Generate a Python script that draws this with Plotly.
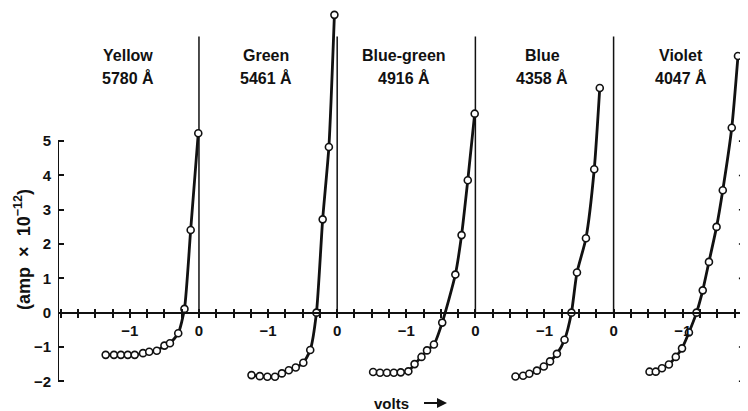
import plotly.graph_objects as go

# ---------------- data ----------------
colors = ["Yellow", "Green", "Blue-green", "Blue", "Violet"]
wavelengths = ["5780 Å", "5461 Å", "4916 Å", "4358 Å", "4047 Å"]

volts_yellow = [-1.35, -1.23, -1.13, -1.03, -0.93, -0.81, -0.72, -0.61, -0.50, -0.42, -0.30, -0.21, -0.12, -0.01]
amps_yellow = [-1.23, -1.23, -1.23, -1.23, -1.23, -1.18, -1.14, -1.11, -0.96, -0.89, -0.60, 0.11, 2.41, 5.23]

volts_green = [-1.24, -1.12, -1.01, -0.90, -0.80, -0.70, -0.60, -0.49, -0.39, -0.30, -0.21, -0.12, -0.04]
amps_green = [-1.82, -1.85, -1.87, -1.87, -1.77, -1.68, -1.60, -1.46, -1.09, 0.0, 2.72, 4.83, 8.68]

volts_bluegreen = [-1.48, -1.38, -1.28, -1.18, -1.08, -0.97, -0.88, -0.78, -0.70, -0.60, -0.48, -0.29, -0.20, -0.11, -0.01]
amps_bluegreen = [-1.73, -1.75, -1.75, -1.75, -1.74, -1.71, -1.50, -1.29, -1.10, -0.93, -0.29, 1.11, 2.26, 3.86, 5.80]

volts_blue = [-1.42, -1.31, -1.22, -1.11, -1.01, -0.92, -0.82, -0.71, -0.61, -0.53, -0.40, -0.28, -0.20]
amps_blue = [-1.86, -1.84, -1.78, -1.69, -1.57, -1.42, -1.20, -0.79, 0.0, 1.17, 2.17, 4.18, 6.55]

volts_violet = [-1.48, -1.39, -1.30, -1.20, -1.10, -1.01, -0.91, -0.80, -0.71, -0.62, -0.51, -0.42, -0.29, -0.20]
amps_violet = [-1.72, -1.72, -1.62, -1.51, -1.29, -1.04, -0.58, 0.0, 0.65, 1.48, 2.50, 3.57, 5.39, 7.48]

panel_volts = [volts_yellow, volts_green, volts_bluegreen, volts_blue, volts_violet]
panel_amps = [amps_yellow, amps_green, amps_bluegreen, amps_blue, amps_violet]

y_tick_values = [-2, -1, 0, 1, 2, 3, 4, 5]
y_tick_labels = ["−2", "−1", "0", "1", "2", "3", "4", "5"]
x_tick_values = [-1, 0, 1, 2, 3, 4, 5, 6, 7]
x_tick_labels = ["−1", "0", "−1", "0", "−1", "0", "−1", "0", "−1"]

# ---------------- layout constants ----------------
PANEL_SHIFT = 2.0          # each panel is drawn 2 V further along one shared axis
X_MIN, X_MAX = -2.04, 7.945
Y_MIN, Y_MAX = -2.40, 8.88
ZERO_LINE_TOP = 8.05
FONT = "Liberation Sans"
BLACK = "#111111"
NB = "\u00a0"

fig = go.Figure()

for k, (vs, am) in enumerate(zip(panel_volts, panel_amps)):
    off = k * PANEL_SHIFT
    if off < X_MAX:
        fig.add_trace(go.Scatter(
            x=[off, off], y=[0, ZERO_LINE_TOP], mode="lines",
            line=dict(color=BLACK, width=1.5), hoverinfo="skip", showlegend=False))
    fig.add_trace(go.Scatter(
        x=[v + off for v in vs], y=am, mode="lines+markers",
        line=dict(color=BLACK, width=2.8, shape="spline", smoothing=0.6),
        marker=dict(symbol="circle", size=7, color="white",
                    line=dict(color=BLACK, width=1.6)),
        name=colors[k], showlegend=False, cliponaxis=False))

# tick marks of the (cut-off) right-hand scale, at the right border of the plot
right_ticks = [v for v in y_tick_values if v != 0]
fig.add_trace(go.Scatter(
    x=[X_MAX] * len(right_ticks), y=right_ticks, mode="markers",
    marker=dict(symbol="line-ew", size=13, line=dict(color=BLACK, width=1.6)),
    hoverinfo="skip", showlegend=False, cliponaxis=False))

# invisible helper trace so the overlay x axis (upper half of the crossing ticks) is drawn
fig.add_trace(go.Scatter(x=[X_MIN], y=[0], xaxis="x2", mode="markers",
                         marker=dict(opacity=0), hoverinfo="skip", showlegend=False))

pos0 = (0 - Y_MIN) / (Y_MAX - Y_MIN)
tick_font = dict(family=FONT, size=15, weight="bold", color=BLACK)

fig.update_layout(
    width=748, height=411,
    margin=dict(l=50, r=8, t=0, b=24),
    paper_bgcolor="white", plot_bgcolor="white",
    font=dict(family=FONT, color=BLACK, size=14),
    xaxis=dict(range=[X_MIN, X_MAX], anchor="free", position=pos0,
               showgrid=False, zeroline=False, showline=True, linecolor=BLACK, linewidth=2,
               ticks="outside", ticklen=4, tickwidth=1.5, tickcolor=BLACK,
               tickvals=x_tick_values, ticktext=x_tick_labels, ticklabelstandoff=0,
               minor=dict(ticks="outside", dtick=0.25, tick0=0, ticklen=4, tickwidth=1.5,
                          tickcolor=BLACK, showgrid=False),
               tickfont=tick_font),
    xaxis2=dict(range=[X_MIN, X_MAX], overlaying="x", side="top", anchor="free", position=pos0,
                showgrid=False, zeroline=False, showline=False,
                ticks="outside", ticklen=4, tickwidth=1.5, tickcolor=BLACK,
                tick0=0, dtick=0.25, showticklabels=False),
    yaxis=dict(range=[Y_MIN, Y_MAX], showgrid=False, zeroline=False, showline=False,
               ticks="inside", ticklen=6, tickwidth=1.6, tickcolor=BLACK,
               tickvals=y_tick_values, ticktext=y_tick_labels, ticklabelstandoff=6,
               tickfont=tick_font),
)

# left y-axis line spanning only -2 .. 5
fig.add_shape(type="line", xref="x", yref="y", x0=X_MIN, x1=X_MIN,
              y0=min(y_tick_values), y1=max(y_tick_values),
              line=dict(color=BLACK, width=2))

# panel titles
for k in range(len(colors)):
    xc = k * PANEL_SHIFT - 1.03
    fig.add_annotation(x=xc, y=7.5, xref="x", yref="y", text=f"<b>{colors[k]}</b>",
                       showarrow=False, font=dict(family=FONT, size=16, color=BLACK))
    fig.add_annotation(x=xc, y=6.83, xref="x", yref="y", text=f"<b>{wavelengths[k]}</b>",
                       showarrow=False, font=dict(family=FONT, size=16, color=BLACK))

# last panel's "0", cut by the edge
fig.add_annotation(x=(4 * PANEL_SHIFT - X_MIN) / (X_MAX - X_MIN), y=pos0,
                   xref="paper", yref="paper", yshift=-19, text="<b>0</b>",
                   showarrow=False, font=dict(family=FONT, size=15, color=BLACK))

# axis titles
fig.add_annotation(x=-0.0507, y=0.375, xref="paper", yref="paper", xanchor="center", yanchor="middle",
                   text=f"<b>(amp{NB}{NB}×{NB}{NB}10<sup>−12</sup>)</b>", textangle=-90,
                   showarrow=False, font=dict(family=FONT, size=18, color=BLACK))
fig.add_annotation(x=0.5638, y=-0.0207, xref="paper", yref="paper", yanchor="middle",
                   text="<b>volts</b>", showarrow=True, ax=-56, ay=0,
                   arrowhead=2, arrowsize=1, arrowwidth=2, arrowcolor=BLACK, startstandoff=14,
                   font=dict(family=FONT, size=15, color=BLACK))

fig.write_html("out.html")
